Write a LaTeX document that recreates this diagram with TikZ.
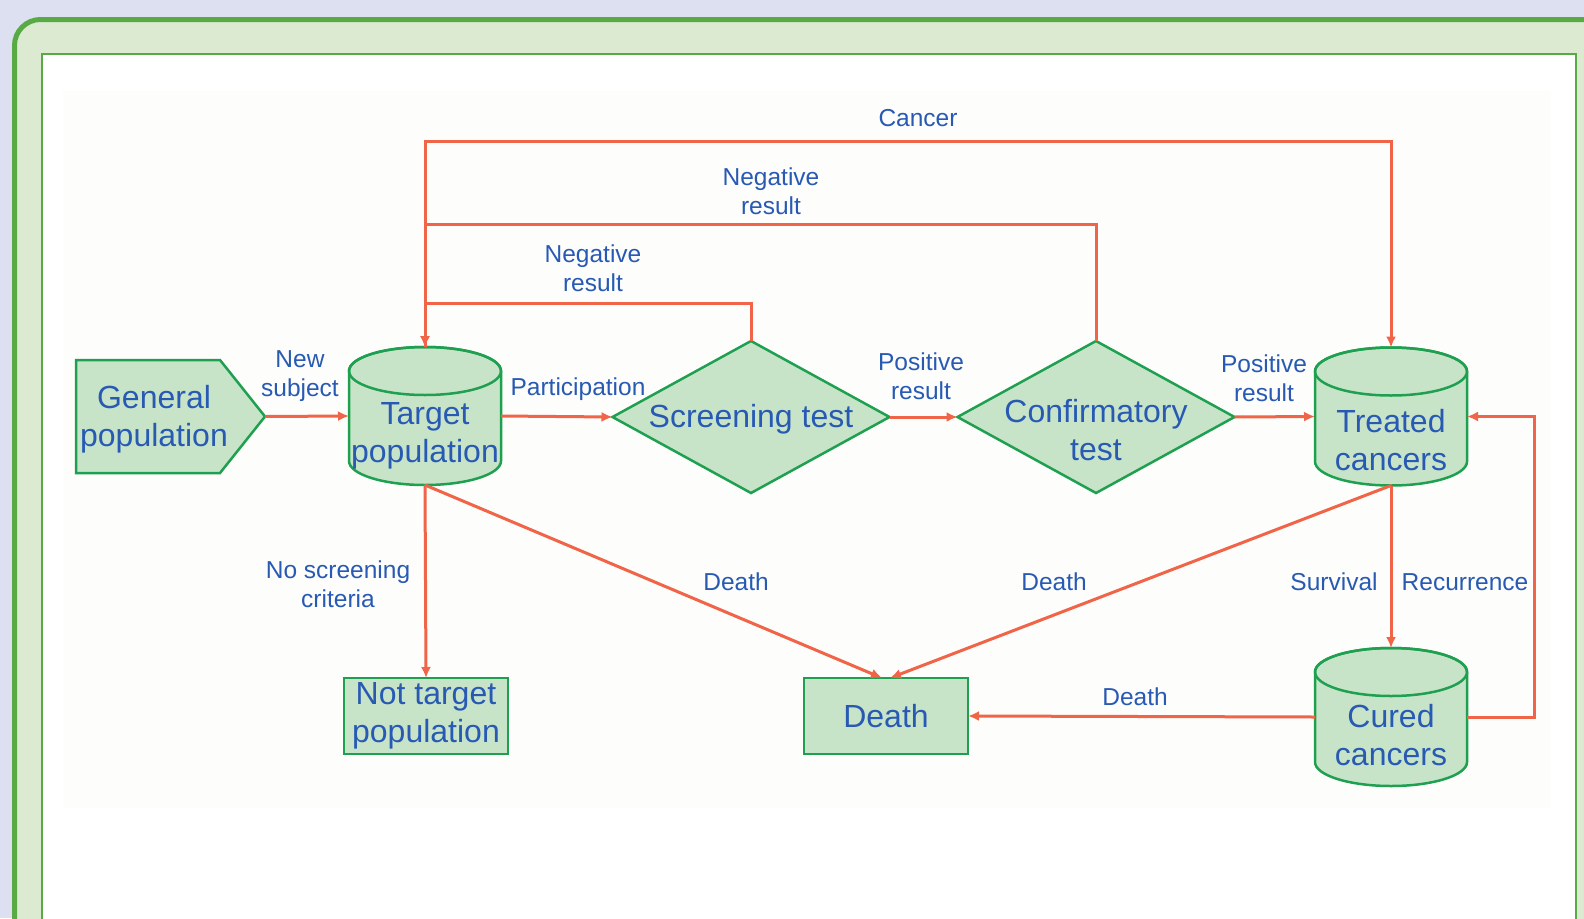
\documentclass[tikz,border=0pt]{standalone}
\usepackage{fontspec}
\setmainfont{Liberation Sans}
\usetikzlibrary{shapes.geometric,arrows.meta,calc}
\definecolor{bgc}{RGB}{221,224,240}
\definecolor{frameg}{RGB}{88,170,68}
\definecolor{framefill}{RGB}{220,234,210}
\definecolor{imgfill}{RGB}{253,253,251}
\definecolor{lineo}{RGB}{240,100,72}
\definecolor{nfill}{RGB}{200,228,200}
\definecolor{ndraw}{RGB}{30,160,80}
\definecolor{tblue}{RGB}{40,90,180}
\newcommand\cylshape[1]{%
  \path[fill=nfill,draw=ndraw,line width=2.5pt]
    ($(#1.north west)+(0,24)$) -- ($(#1.south west)+(0,-24)$)
    arc[start angle=180,end angle=360,x radius=76pt,y radius=24pt]
    -- ($(#1.north east)+(0,24)$)
    arc[start angle=0,end angle=180,x radius=76pt,y radius=24pt] -- cycle;
  \draw[ndraw,line width=2.5pt] ($(#1.north)+(0,24)$) ellipse[x radius=76pt,y radius=24pt];
}
\begin{document}
\begin{tikzpicture}[x=1pt,y=-1pt,
  conn/.style={draw=lineo,line width=3pt,-{Latex[length=11pt,width=10pt]}},
  cylnode/.style={rectangle,minimum width=152pt,minimum height=138pt,inner sep=0pt,outer sep=0pt},
  ntext/.style={text=tblue,align=center,inner sep=0pt,font=\fontsize{32}{38}\selectfont},
  lbl/.style={text=tblue,align=center,inner sep=0pt,font=\fontsize{24.5}{29}\selectfont},
  boxnode/.style={rectangle,fill=nfill,draw=ndraw,line width=2.5pt,text=tblue,align=center,
    minimum width=164pt,minimum height=76pt,inner sep=0pt,outer sep=0pt,font=\fontsize{32}{38}\selectfont},
  dianode/.style={diamond,fill=nfill,draw=ndraw,line width=2.5pt,minimum width=277pt,
    minimum height=152pt,inner sep=0pt,outer sep=0pt},
]
\useasboundingbox (0,0) rectangle (1584,918);
\clip (0,0) rectangle (1584,918);
\fill[bgc] (0,0) rectangle (1584,918);
\draw[frameg,fill=framefill,line width=5pt,rounded corners=26pt] (14.5,19.5) rectangle (1640,980);
\draw[frameg,fill=white,line width=2.5pt] (42,54) rectangle (1576,980);
\fill[imgfill] (63,91) rectangle (1551,808);

% nodes
\node[rectangle,minimum width=189pt,minimum height=113pt,inner sep=0pt,outer sep=0pt] (gp) at (170.5,416.5) {};
\path[fill=nfill,draw=ndraw,line width=2.5pt] (gp.north west) -- ($(gp.north east)+(-45,0)$) -- (gp.east) -- ($(gp.south east)+(-45,0)$) -- (gp.south west) -- cycle;
\node[ntext] (gpt) at (154,419) {General\\population};

\node[cylnode] (tp) at (425,416) {};
\cylshape{tp}
\node[ntext] (tpt) at (425,436) {Target\\population};

\node[cylnode] (tc) at (1391,416.5) {};
\cylshape{tc}
\node[ntext] (tct) at (1391,440) {Treated\\cancers};

\node[cylnode] (cc) at (1391,717) {};
\cylshape{cc}
\node[ntext] (cct) at (1391,735) {Cured\\cancers};

\node[dianode] (st) at (751,417) {};
\node[ntext] (stt) at (751,419) {Screening test};
\node[dianode] (ct) at (1096,417) {};
\node[ntext] (ctt) at (1096,430) {Confirmatory\\test};

\node[boxnode] (nt) at (426,716) {Not target\\population};
\node[boxnode] (dt) at (886,716) {Death};

% coordinates
\coordinate (cL) at (425,141);
\coordinate (cR) at (1391,141);
\coordinate (n1) at (425,303);
\coordinate (n2) at (425,224);
\coordinate (rx) at (1534,560);
\coordinate (dl) at ($(dt.north)+(-4,0)$);
\coordinate (dr) at ($(dt.north)+(4,0)$);

% connectors
\draw[conn] (gp.east) -- (tp.west);
\draw[conn] (tp.east) -- (st.west);
\draw[conn] (st.east) -- (ct.west);
\draw[conn] (ct.east) -- (tc.west);
\draw[conn] (tp.north) -- (cL) -- (cR) -- (tc.north);
\draw[conn] (ct.north) |- (n2) -- (tp.north);
\draw[conn] (st.north) |- (n1) -- (tp.north);
\draw[conn] (tp.south) -- (nt.north);
\draw[conn] (tp.south) -- (dl);
\draw[conn] (tc.south) -- (dr);
\draw[conn] (tc.south) -- (cc.north);
\draw[conn] (cc.east) -| (rx) |- (tc.east);
\draw[conn] (cc.west) -- (dt.east);

% labels
\node[lbl] (l1) at (300,376) {New\\subject};
\node[lbl] (l2) at (578,389) {Participation};
\node[lbl] (l3) at (921,376) {Positive\\result};
\node[lbl] (l4) at (1264,378) {Positive\\result};
\node[lbl] (l5) at (918,118) {Cancer};
\node[lbl] (l6) at (771,191) {Negative\\result};
\node[lbl] (l7) at (593,268) {Negative\\result};
\node[lbl] (l8) at (338,584) {No screening\\criteria};
\node[lbl] (l9) at (736,582) {Death};
\node[lbl] (l10) at (1054,582) {Death};
\node[lbl] (l11) at (1334,582) {Survival};
\node[lbl] (l12) at (1465,582) {Recurrence};
\node[lbl] (l13) at (1135,697) {Death};
\end{tikzpicture}
\end{document}
